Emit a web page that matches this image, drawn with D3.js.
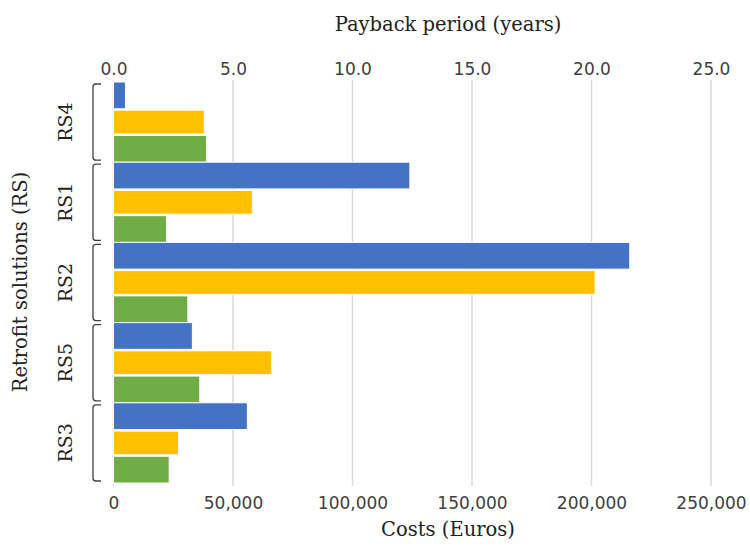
<!DOCTYPE html>
<html>
<head>
<meta charset="utf-8">
<script src="https://cdn.jsdelivr.net/npm/d3@7"></script>
<style>
  body { margin: 0; background: #fff; }
  .tick text { font-family: "DejaVu Sans", sans-serif; font-size: 17px; fill: #404040; }
  .title { font-family: "DejaVu Serif", serif; font-size: 19.5px; fill: #222; }
  .cat { font-family: "DejaVu Serif", serif; font-size: 19px; fill: #222; }
</style>
</head>
<body>
<svg id="viz" width="750" height="548"></svg>
<script>
// --- Data ---
const categories = ["RS4", "RS1", "RS2", "RS5", "RS3"];
const paybackYears = [0.5, 12.4, 21.6, 3.3, 5.6];          // blue, top axis
const costsA = [38000, 58100, 201500, 66200, 27200];        // yellow, bottom axis
const costsB = [38900, 22200, 31100, 36100, 23300];         // green, bottom axis
const costTicks = [0, 50000, 100000, 150000, 200000, 250000];
const yearTicks = [0, 5, 10, 15, 20, 25];

const COLORS = { blue: "#4472c4", yellow: "#ffc000", green: "#70ad47", grid: "#d9d9d9" };

const svg = d3.select("#viz");
const margin = { left: 113.5, top: 82, bottom: 483 };

const xCost = d3.scaleLinear().domain([0, 250000]).range([margin.left, 711]);
const xYear = d3.scaleLinear().domain([0, 25]).range([margin.left, 711]);

const yGroup = d3.scaleBand().domain(categories).range([margin.top, margin.bottom]);
const ySeries = d3.scaleBand().domain(["blue", "yellow", "green"]).range([0, yGroup.bandwidth()]);

// --- Gridlines ---
svg.append("g")
  .selectAll("line")
  .data(costTicks)
  .join("line")
  .attr("x1", d => xCost(d)).attr("x2", d => xCost(d))
  .attr("y1", 80).attr("y2", 486)
  .attr("stroke", COLORS.grid)
  .attr("stroke-width", 1.5);

// --- Bars ---
const rows = categories.map((c, i) => ({ cat: c, blue: paybackYears[i], yellow: costsA[i], green: costsB[i] }));
const bars = [];
rows.forEach(r => {
  bars.push({ cat: r.cat, s: "blue", x: xYear(r.blue) });
  bars.push({ cat: r.cat, s: "yellow", x: xCost(r.yellow) });
  bars.push({ cat: r.cat, s: "green", x: xCost(r.green) });
});

svg.append("g")
  .selectAll("rect")
  .data(bars)
  .join("rect")
  .attr("x", margin.left)
  .attr("y", d => yGroup(d.cat) + ySeries(d.s) + (d.s === "yellow" ? 1.5 : 0))
  .attr("width", d => d.x - margin.left)
  .attr("height", d => ySeries.bandwidth() - (d.s === "yellow" ? 3 : 0))
  .attr("fill", d => COLORS[d.s])
  .attr("stroke", "#fff")
  .attr("stroke-width", 1);

// --- Axes ---
const topAxis = d3.axisTop(xYear).tickValues(yearTicks).tickFormat(d3.format(".1f")).tickSize(0).tickPadding(0);
svg.append("g").attr("transform", "translate(0,75)").call(topAxis)
  .call(g => g.select(".domain").remove());

const bottomAxis = d3.axisBottom(xCost).tickValues(costTicks).tickFormat(d3.format(",")).tickSize(0).tickPadding(0);
svg.append("g").attr("transform", "translate(0,497)").call(bottomAxis)
  .call(g => g.select(".domain").remove());

// --- Category brackets and labels ---
const brk = svg.append("g");
categories.forEach(c => {
  const y0 = yGroup(c) + 2, y1 = yGroup(c) + yGroup.bandwidth() - 2;
  const xl = 93, xr = 101, r = 3;
  brk.append("path")
    .attr("d", `M${xr},${y0} L${xl + r},${y0} Q${xl},${y0} ${xl},${y0 + r} L${xl},${y1 - r} Q${xl},${y1} ${xl + r},${y1} L${xr},${y1}`)
    .attr("fill", "none")
    .attr("stroke", "#404040")
    .attr("stroke-width", 1.3);
  const cy = yGroup(c) + yGroup.bandwidth() / 2;
  brk.append("text")
    .attr("class", "cat")
    .attr("transform", `translate(72,${cy}) rotate(-90)`)
    .attr("text-anchor", "middle")
    .text(c);
});

// --- Titles ---
svg.append("text").attr("class", "title")
  .attr("x", 448).attr("y", 31).attr("text-anchor", "middle")
  .text("Payback period (years)");

svg.append("text").attr("class", "title")
  .attr("x", 448).attr("y", 536).attr("text-anchor", "middle")
  .text("Costs (Euros)");

svg.append("text").attr("class", "title")
  .attr("transform", "translate(27,282) rotate(-90)")
  .attr("text-anchor", "middle")
  .text("Retrofit solutions (RS)");
</script>
</body>
</html>
